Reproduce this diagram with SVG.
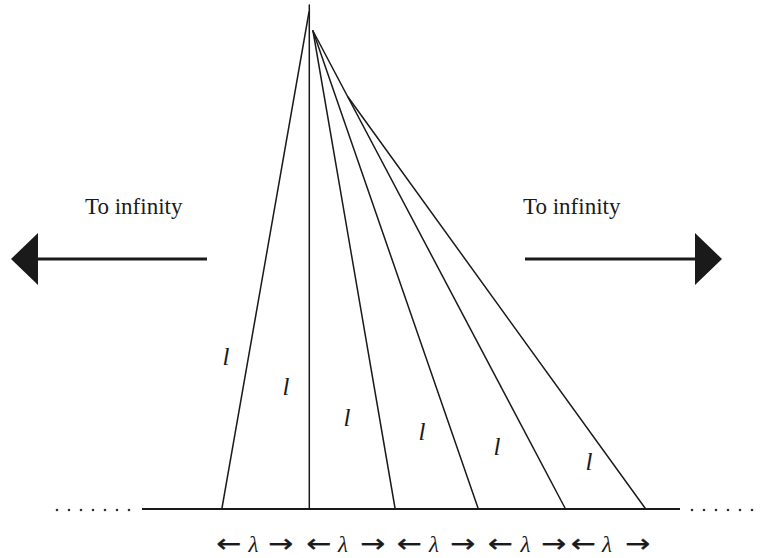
<svg xmlns="http://www.w3.org/2000/svg" width="761" height="558" viewBox="0 0 761 558">
<style>
.ln{stroke:#1a1a1a;stroke-width:1.5;fill:none;stroke-linecap:round}
.base{stroke:#1a1a1a;stroke-width:2;fill:none}
.big{stroke:#1a1a1a;stroke-width:3;fill:none}
.head{fill:#1a1a1a;stroke:none}
.lbl{font-size:23px;fill:#1a1a1a}
.ell{font-style:italic;font-size:25px;fill:#1a1a1a;text-anchor:middle}
.lam{font-style:italic;font-size:23px;fill:#1a1a1a;text-anchor:middle}
.arr{font-family:"DejaVu Sans",sans-serif;font-size:25px;fill:#1a1a1a;stroke:#1a1a1a;stroke-width:0.3;text-anchor:middle}
.dot{fill:#333}
</style>
<rect width="761" height="558" fill="#fff"/>
<g id="connectors">
<line class="ln" x1="309.3" y1="5" x2="309.3" y2="508"/>
<line class="ln" x1="309" y1="12" x2="222" y2="508"/>
<line class="ln" x1="313" y1="31" x2="395" y2="508"/>
<line class="ln" x1="313" y1="31" x2="478" y2="508"/>
<line class="ln" x1="313" y1="31" x2="565" y2="508"/>
<line class="ln" x1="348" y1="97" x2="645" y2="508"/>
</g>
<g id="baseline">
<line class="base" x1="142" y1="509" x2="680" y2="509"/>
<g class="dot">
<circle cx="57" cy="510" r="1.3"/><circle cx="69" cy="510" r="1.3"/><circle cx="81" cy="510" r="1.3"/><circle cx="93" cy="510" r="1.3"/><circle cx="105" cy="510" r="1.3"/><circle cx="117" cy="510" r="1.3"/><circle cx="129" cy="510" r="1.3"/>
<circle cx="692" cy="510" r="1.3"/><circle cx="704" cy="510" r="1.3"/><circle cx="716" cy="510" r="1.3"/><circle cx="728" cy="510" r="1.3"/><circle cx="740" cy="510" r="1.3"/><circle cx="752" cy="510" r="1.3"/>
</g>
</g>
<g font-family="'Liberation Serif', 'DejaVu Serif', serif">
<g id="left-arrow">
<text class="lbl" x="85" y="214">To infinity</text>
<line class="big" x1="207" y1="259" x2="36" y2="259"/>
<polygon class="head" points="11,259 38,233 38,285"/>
</g>
<g id="right-arrow">
<text class="lbl" x="523" y="214">To infinity</text>
<line class="big" x1="525" y1="259" x2="697" y2="259"/>
<polygon class="head" points="722,259 695,233 695,285"/>
</g>
<g id="lengths">
<text class="ell" x="226" y="365">l</text>
<text class="ell" x="286" y="395">l</text>
<text class="ell" x="347" y="426">l</text>
<text class="ell" x="422" y="440">l</text>
<text class="ell" x="497" y="455">l</text>
<text class="ell" x="589" y="470">l</text>
</g>
<g id="spacings">
<text class="arr" x="229" y="552" textLength="25" lengthAdjust="spacingAndGlyphs">←</text><text class="lam" x="253.5" y="552">λ</text><text class="arr" x="280.5" y="552" textLength="25" lengthAdjust="spacingAndGlyphs">→</text>
<text class="arr" x="319" y="552" textLength="25" lengthAdjust="spacingAndGlyphs">←</text><text class="lam" x="343" y="552">λ</text><text class="arr" x="372.5" y="552" textLength="25" lengthAdjust="spacingAndGlyphs">→</text>
<text class="arr" x="409.5" y="552" textLength="25" lengthAdjust="spacingAndGlyphs">←</text><text class="lam" x="434" y="552">λ</text><text class="arr" x="462.5" y="552" textLength="25" lengthAdjust="spacingAndGlyphs">→</text>
<text class="arr" x="500.5" y="552" textLength="25" lengthAdjust="spacingAndGlyphs">←</text><text class="lam" x="525.5" y="552">λ</text><text class="arr" x="553.5" y="552" textLength="25" lengthAdjust="spacingAndGlyphs">→</text>
<text class="arr" x="583.5" y="552" textLength="25" lengthAdjust="spacingAndGlyphs">←</text><text class="lam" x="607" y="552">λ</text><text class="arr" x="637.5" y="552" textLength="25" lengthAdjust="spacingAndGlyphs">→</text>
</g>
</g>
</svg>
